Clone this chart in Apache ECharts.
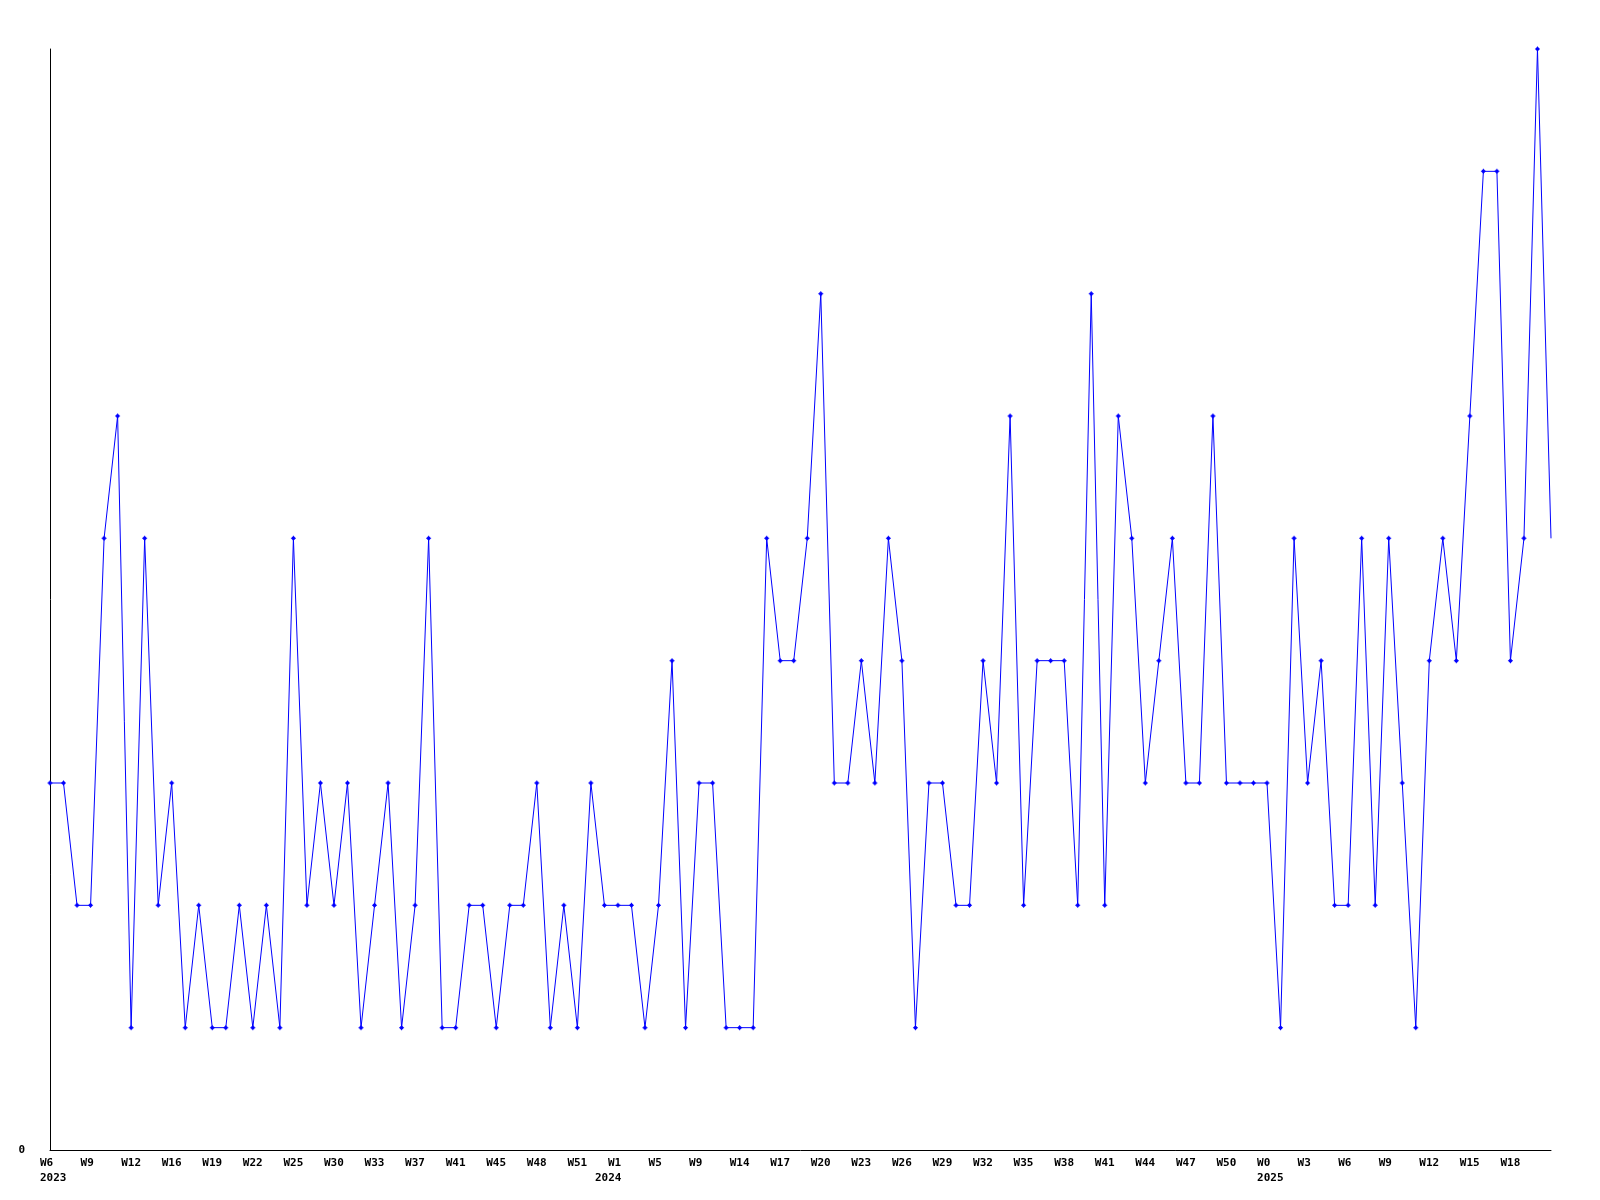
<!DOCTYPE html>
<html>
<head>
<meta charset="utf-8">
<script src="https://cdn.jsdelivr.net/npm/echarts@6/dist/echarts.min.js"></script>
<style>
html,body{margin:0;padding:0;background:#fff;}
#chart{width:1600px;height:1200px;}
</style>
</head>
<body>
<div id="chart"></div>
<script>
// Tick labels shown every 3rd point
const tickLabels = ['W6','W9','W12','W16','W19','W22','W25','W30','W33','W37','W41','W45','W48','W51',
  'W1','W5','W9','W14','W17','W20','W23','W26','W29','W32','W35','W38','W41','W44','W47','W50',
  'W0','W3','W6','W9','W12','W15','W18'];
const yearLabels = ['2023','','','','','','','','','','','','','',
  '2024','','','','','','','','','','','','','','','',
  '2025','','','','','',''];
// Weekly values
const values = [3,3,2,2,5,6,1,5,2,3,1,2,1,1,2,1,2,1,5,2,3,2,3,1,2,3,1,2,5,1,
  1,2,2,1,2,2,3,1,2,1,3,2,2,2,1,2,4,1,3,3,1,1,1,5,4,4,5,7,3,3,
  4,3,5,4,1,3,3,2,2,4,3,6,2,4,4,4,2,7,2,6,5,3,4,5,3,3,6,3,3,3,
  3,1,5,3,4,2,2,5,2,5,3,1,4,5,4,6,8,8,4,5,9,5];
const categories = values.map((v, i) => String(i));

const chart = echarts.init(document.getElementById('chart'), null, {renderer: 'canvas'});
const fontFamily = '"DejaVu Sans Mono", monospace';
const marker = 'path://M2,0L3,0L3,1L4,1L4,2L5,2L5,3L4,3L4,4L3,4L3,5L2,5L2,4L1,4L1,3L0,3L0,2L1,2L1,1L2,1Z';
const seriesData = values.map((v, i) => i === values.length - 1 ? {value: v, symbol: 'none'} : v);
const txt = {fontFamily: fontFamily, fontSize: 11, fontWeight: 'bold', color: '#000', lineHeight: 15};

chart.setOption({
  animation: false,
  backgroundColor: '#ffffff',
  grid: {left: 50, right: 49, top: 49, bottom: 50, containLabel: false},
  xAxis: {
    type: 'category',
    data: categories,
    boundaryGap: false,
    axisLine: {show: true, lineStyle: {color: '#000', width: 1}},
    axisTick: {show: false},
    splitLine: {show: false},
    axisLabel: {
      interval: 2,
      margin: 6,
      align: 'center',
      formatter: function (val, idx) {
        const k = Math.round(idx / 3);
        if (idx % 3 !== 0 || k >= tickLabels.length) return '';
        const y = yearLabels[k];
        if (y && k > 0 && k < 20) {
          return '{sp|}{w|' + tickLabels[k] + '}\n{yw|' + y + '}';
        }
        let s = '{w|' + tickLabels[k] + '}';
        if (y) s += '\n{w|' + y + '}';
        return s;
      },
      rich: {
        w: Object.assign({width: 20, align: 'left'}, txt),
        sp: Object.assign({width: 13, align: 'left'}, txt),
        yw: Object.assign({width: 46, align: 'left'}, txt)
      }
    }
  },
  yAxis: {
    type: 'value',
    min: 0,
    max: 9,
    interval: 9,
    axisLine: {show: true, lineStyle: {color: '#000', width: 1}},
    axisTick: {show: false},
    splitLine: {show: false},
    axisLabel: {
      margin: 25,
      fontFamily: fontFamily,
      fontSize: 11,
      fontWeight: 'bold',
      color: '#000',
      formatter: v => (v === 0 ? '0' : '')
    }
  },
  series: [{
    type: 'line',
    data: seriesData,
    symbol: marker,
    symbolSize: 5,
    showAllSymbol: true,
    lineStyle: {color: '#0000ff', width: 1},
    itemStyle: {color: '#0000ff'},
    emphasis: {disabled: true}
  }]
});
</script>
</body>
</html>
